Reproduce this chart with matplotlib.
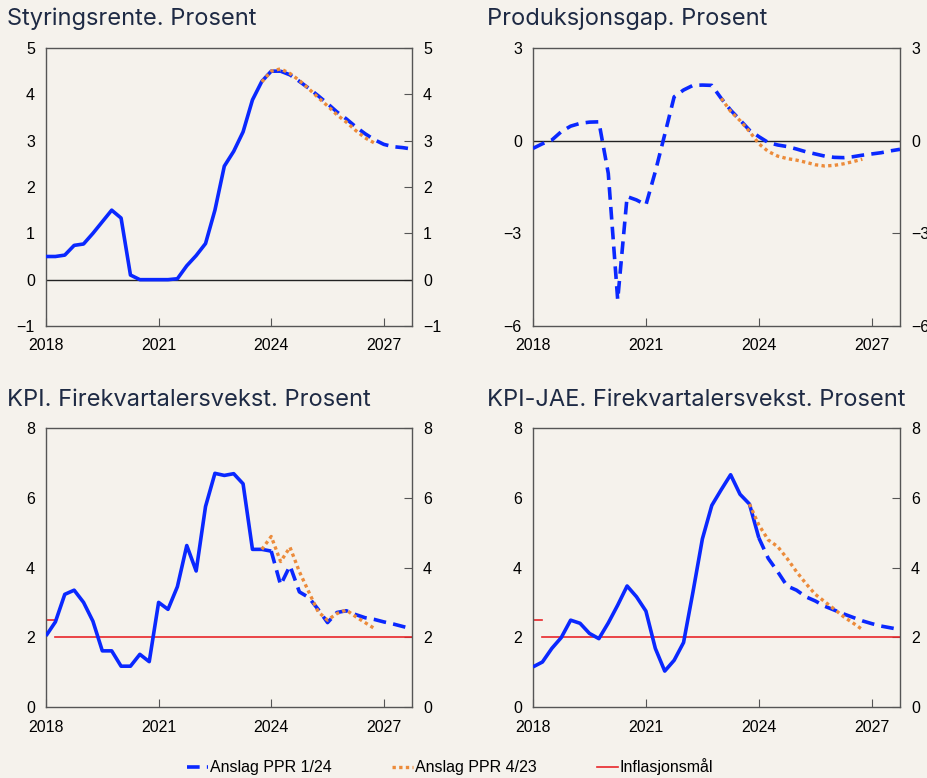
import numpy as np
import matplotlib.pyplot as plt
from matplotlib.lines import Line2D

# Colours and styles
BG = '#f5f2ec'
BLUE = '#0a28ff'
ORANGE = '#ec8b3a'
RED = '#e8262a'
TITLE_COLOR = '#1e2a44'
SPINE = '#555555'

plt.rcParams['font.family'] = ['Liberation Sans', 'DejaVu Sans']

# Quarterly time axis, 2018Q1 .. 2027Q4
quarters = 2018 + np.arange(40) / 4

# Styringsrente
rate_hist = [0.5, 0.5, 0.53, 0.74, 0.77, 1.0, 1.25, 1.5, 1.33, 0.1, 0.0, 0.0,
             0.0, 0.0, 0.02, 0.3, 0.52, 0.78, 1.5, 2.45, 2.77, 3.19, 3.88, 4.28,
             4.5, 4.5]
rate_ppr124 = [4.5, 4.42, 4.28, 4.13, 3.97, 3.8, 3.62, 3.47, 3.3, 3.15, 3.02,
               2.92, 2.87, 2.85, 2.82]
rate_ppr423 = [4.27, 4.5, 4.55, 4.45, 4.3, 4.12, 3.93, 3.75, 3.56, 3.4, 3.22,
               3.06, 2.95]

# Produksjonsgap
gap_ppr124 = [-0.25, -0.1, 0.02, 0.29, 0.47, 0.56, 0.6, 0.61, -1.06, -5.15,
              -1.81, -1.92, -2.08, -1.0, 0.2, 1.42, 1.64, 1.79, 1.8, 1.79,
              1.37, 0.99, 0.67, 0.34, 0.13, -0.06, -0.14, -0.19, -0.27, -0.36,
              -0.43, -0.5, -0.54, -0.55, -0.52, -0.47, -0.43, -0.39, -0.33, -0.28]
gap_ppr423 = [1.37, 0.95, 0.65, 0.3, -0.1, -0.35, -0.5, -0.58, -0.63, -0.7,
              -0.78, -0.82, -0.8, -0.75, -0.68, -0.6]

# KPI
kpi_hist = [2.04, 2.44, 3.23, 3.35, 3.0, 2.46, 1.61, 1.61, 1.17, 1.17, 1.51, 1.3,
            3.0, 2.8, 3.45, 4.63, 3.9, 5.75, 6.7, 6.64, 6.69, 6.4, 4.52, 4.52,
            4.47]
kpi_ppr124 = [4.47, 3.5, 4.05, 3.3, 3.14, 2.8, 2.42, 2.71, 2.76, 2.65, 2.56,
              2.51, 2.44, 2.38, 2.31, 2.24]
kpi_ppr423 = [4.52, 4.89, 4.17, 4.58, 3.88, 3.3, 2.73, 2.49, 2.68, 2.78, 2.59,
              2.42, 2.25]

# KPI-JAE
jae_hist = [1.15, 1.29, 1.68, 1.99, 2.49, 2.4, 2.11, 1.96, 2.41, 2.92, 3.47, 3.16,
            2.75, 1.68, 1.03, 1.34, 1.85, 3.3, 4.82, 5.78, 6.23, 6.66, 6.1, 5.82,
            4.85]
jae_ppr124 = [4.85, 4.26, 3.88, 3.47, 3.35, 3.16, 3.04, 2.89, 2.78, 2.67, 2.57,
              2.47, 2.39, 2.32, 2.27, 2.22]
jae_ppr423 = [5.82, 5.22, 4.79, 4.6, 4.26, 3.88, 3.54, 3.23, 3.02, 2.81, 2.59,
              2.41, 2.22]

# Inflasjonsmål: 2.5 before the change in 2018, 2 afterwards
target_old, target_new = 2.5, 2.0
target_change = 2018.25

titles = ['Styringsrente. Prosent', 'Produksjonsgap. Prosent',
          'KPI. Firekvartalersvekst. Prosent', 'KPI-JAE. Firekvartalersvekst. Prosent']
xticks = [2018, 2021, 2024, 2027]

W, H = 928, 778
fig = plt.figure(figsize=(W / 100, H / 100), dpi=100)
fig.patch.set_facecolor(BG)


def px_axes(left, top, right, bottom):
    return fig.add_axes([left / W, 1 - bottom / H, (right - left) / W, (bottom - top) / H])


def style_axes(ax, ylim, yticks):
    ax.set_facecolor(BG)
    ax.set_xlim(quarters[0], quarters[-1])
    ax.set_ylim(*ylim)
    ax.set_xticks(xticks)
    ax.set_yticks(yticks)
    for s in ax.spines.values():
        s.set_color(SPINE)
        s.set_linewidth(1.0)
    ax.tick_params(axis='x', direction='in', length=6, color=SPINE, labelsize=11.5, pad=9)
    ax.tick_params(axis='y', direction='in', length=6, color=SPINE, labelsize=11.5, pad=8,
                   left=False, right=True, labelleft=True, labelright=True)


def add_projection(ax, hist, ppr124, ppr423, ppr423_start):
    n = len(hist)
    if n:
        ax.plot(quarters[:n], hist, color=BLUE, lw=2.6, solid_capstyle='butt', zorder=3)
    start = n - 1 if n else 0
    ax.plot(quarters[start:start + len(ppr124)], ppr124, color=BLUE, lw=2.6,
            linestyle=(0, (3.5, 2)), zorder=3)
    i0 = int(round((ppr423_start - 2018) * 4))
    ax.plot(quarters[i0:i0 + len(ppr423)], ppr423, color=ORANGE, lw=2.4,
            linestyle=(0, (1, 1)), zorder=4)


def add_target(ax):
    ax.plot([quarters[0], target_change], [target_old, target_old], color=RED, lw=1.2, zorder=2)
    ax.plot([target_change, quarters[-1]], [target_new, target_new], color=RED, lw=1.2, zorder=2)


# Styringsrente
ax1 = px_axes(46, 48, 412, 326)
style_axes(ax1, (-1, 5), range(-1, 6))
ax1.axhline(0, color='#222222', lw=1.0, zorder=2)
add_projection(ax1, rate_hist, rate_ppr124, rate_ppr423, 2023.75)

# Produksjonsgap (estimates only, all dashed)
ax2 = px_axes(533, 48, 900, 326)
style_axes(ax2, (-6, 3), [-6, -3, 0, 3])
ax2.axhline(0, color='#222222', lw=1.0, zorder=2)
add_projection(ax2, [], gap_ppr124, gap_ppr423, 2023.0)

# KPI
ax3 = px_axes(46, 428, 412, 707)
style_axes(ax3, (0, 8), [0, 2, 4, 6, 8])
add_target(ax3)
add_projection(ax3, kpi_hist, kpi_ppr124, kpi_ppr423, 2023.75)

# KPI-JAE
ax4 = px_axes(533, 428, 900, 707)
style_axes(ax4, (0, 8), [0, 2, 4, 6, 8])
add_target(ax4)
add_projection(ax4, jae_hist, jae_ppr124, jae_ppr423, 2023.75)

# Panel titles
for (x, y), t in zip([(7, 8), (487, 8), (7, 389), (487, 389)], titles):
    fig.text(x / W, 1 - y / H, t, ha='left', va='top', fontsize=17, fontweight='normal',
             color=TITLE_COLOR, family=['Inter', 'DejaVu Sans'])

# Legend
handles = [
    Line2D([], [], color=BLUE, lw=2.6, linestyle=(0, (3.5, 2))),
    Line2D([], [], color=ORANGE, lw=2.4, linestyle=(0, (1, 1))),
    Line2D([], [], color=RED, lw=1.2),
]
labels = ['Anslag PPR 1/24', 'Anslag PPR 4/23', 'Inflasjonsmål']
fig.legend(handles, labels, loc='center', bbox_to_anchor=(0.485, 1 - 767 / H), ncol=3,
           frameon=False, fontsize=11.5, handlelength=1.3, handletextpad=0.1,
           columnspacing=3.8)

fig.savefig('out.png', dpi=100, facecolor=BG)
